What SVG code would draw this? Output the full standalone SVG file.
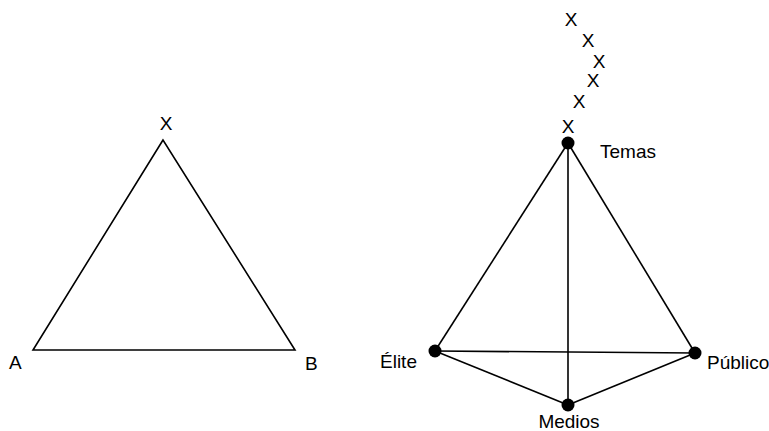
<svg xmlns="http://www.w3.org/2000/svg" width="769" height="431" viewBox="0 0 769 431">
<style>
text{font-family:"Liberation Sans",Arial,sans-serif;font-size:19px;fill:#000}
.l{stroke:#000;stroke-width:1.6;fill:none}
.d{fill:#000}
.m{text-anchor:middle}
</style>
<rect width="769" height="431" fill="#fff"/>
<g id="left-triangle">
<polygon class="l" points="163,140 33,350 295,350"/>
<text class="m" x="166" y="130">X</text>
<text x="9" y="369">A</text>
<text x="305" y="370">B</text>
</g>
<g id="connectors">
<line class="l" x1="568" y1="143" x2="435" y2="351"/>
<line class="l" x1="568" y1="143" x2="695" y2="353"/>
<line class="l" x1="568" y1="143" x2="568" y2="405"/>
<line class="l" x1="435" y1="351" x2="695" y2="353"/>
<line class="l" x1="435" y1="351" x2="568" y2="405"/>
<line class="l" x1="695" y1="353" x2="568" y2="405"/>
</g>
<g id="xs">
<text class="m" x="571" y="26">X</text>
<text class="m" x="588" y="47">X</text>
<text class="m" x="599" y="68">X</text>
<text class="m" x="593" y="87">X</text>
<text class="m" x="579" y="108">X</text>
<text class="m" x="568" y="133">X</text>
</g>
<g id="temas"><circle class="d" cx="568" cy="143" r="6.5"/><text x="600" y="158">Temas</text></g>
<g id="elite"><circle class="d" cx="435" cy="351" r="6.5"/><text x="380" y="368">Élite</text></g>
<g id="publico"><circle class="d" cx="695" cy="353" r="6.5"/><text x="707" y="369">Público</text></g>
<g id="medios"><circle class="d" cx="568" cy="405" r="6.5"/><text class="m" x="569" y="428">Medios</text></g>
</svg>
